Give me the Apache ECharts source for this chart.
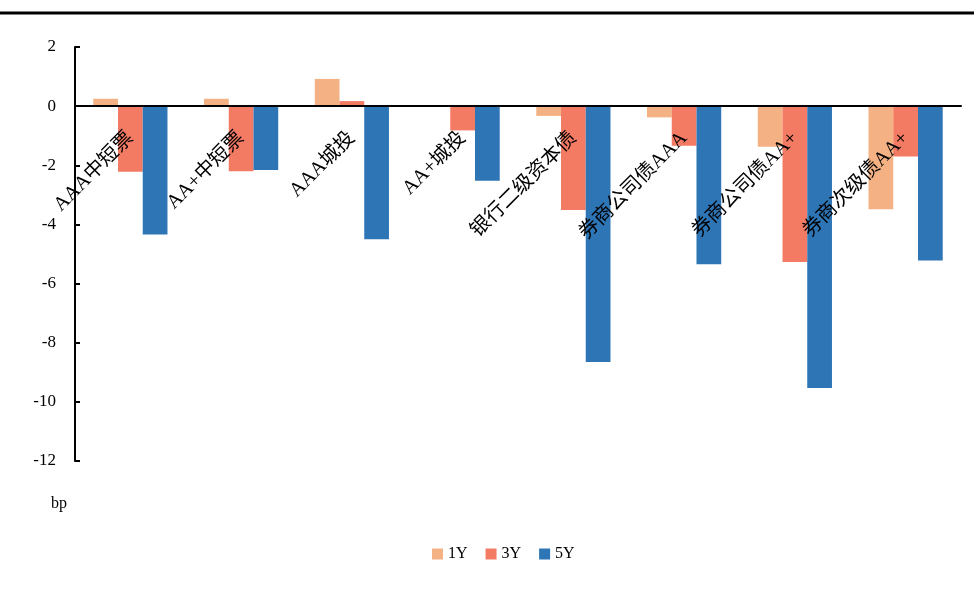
<!DOCTYPE html>
<html>
<head>
<meta charset="utf-8">
<script src="https://cdn.jsdelivr.net/npm/echarts@6/dist/echarts.min.js"></script>
<style>
  html, body { margin: 0; padding: 0; background: #fff; }
  #chart { width: 974px; height: 590px; }
</style>
</head>
<body>
<div id="chart"></div>
<script>
// Credit spread changes by bond type and tenor (bp)
const categories = ['AAA中短票', 'AA+中短票', 'AAA城投', 'AA+城投', '银行二级资本债', '券商公司债AAA', '券商公司债AA+', '券商次级债AA+'];
const seriesNames = ['1Y', '3Y', '5Y'];
const values1Y = [0.25, 0.25, 0.92, 0, -0.33, -0.38, -1.37, -3.49];
const values3Y = [-2.22, -2.2, 0.17, -0.82, -3.51, -1.34, -5.27, -1.70];
const values5Y = [-4.34, -2.16, -4.5, -2.52, -8.65, -5.35, -9.53, -5.22];
const yTicks = { min: -12, max: 2, interval: 2 };
const colors = ['#F4B183', '#F37B64', '#2E75B6'];

const serif = '"Liberation Serif", "Noto Sans CJK SC", serif';
const W = 974, H = 590;
const grid = { left: 75, right: 13, top: 47, bottom: 129 };
const plotHeight = H - grid.top - grid.bottom;
// lift the category axis (line + labels) up to the value-axis zero
const zeroOffset = -plotHeight * (0 - yTicks.min) / (yTicks.max - yTicks.min);

const chart = echarts.init(document.getElementById('chart'));

chart.setOption({
  animation: false,
  color: colors,
  grid: Object.assign({ outerBoundsMode: 'none' }, grid),
  legend: {
    data: seriesNames,
    left: 427,
    top: 541,
    itemWidth: 11,
    itemHeight: 11,
    itemGap: 18,
    icon: 'rect',
    textStyle: { fontFamily: serif, fontSize: 16, color: '#000' }
  },
  xAxis: {
    type: 'category',
    data: categories,
    offset: zeroOffset,
    z: 5,
    axisLine: { onZero: false, lineStyle: { color: '#000', width: 2 } },
    axisTick: { show: false },
    axisLabel: {
      interval: 0,
      rotate: 45,
      margin: 29,
      fontFamily: serif,
      fontSize: 20,
      color: '#000'
    }
  },
  yAxis: {
    type: 'value',
    min: yTicks.min,
    max: yTicks.max,
    interval: yTicks.interval,
    z: 5,
    splitLine: { show: false },
    axisLine: { show: true, lineStyle: { color: '#000', width: 2 } },
    axisTick: { show: true, inside: true, length: 5, lineStyle: { color: '#000', width: 2 } },
    axisLabel: { margin: 19, fontFamily: serif, fontSize: 17, color: '#000' }
  },
  graphic: [
    {
      type: 'line',
      shape: { x1: 0, y1: 13, x2: W, y2: 13 },
      style: { stroke: '#000', lineWidth: 3 }
    },
    {
      type: 'text',
      left: 51,
      top: 496,
      style: { text: 'bp', font: '16px ' + serif, fill: '#000' }
    }
  ],
  series: [
    { name: seriesNames[0], type: 'bar', data: values1Y, barGap: '0%', barCategoryGap: '33%' },
    { name: seriesNames[1], type: 'bar', data: values3Y, barGap: '0%', barCategoryGap: '33%' },
    { name: seriesNames[2], type: 'bar', data: values5Y, barGap: '0%', barCategoryGap: '33%' }
  ]
});
</script>
</body>
</html>
